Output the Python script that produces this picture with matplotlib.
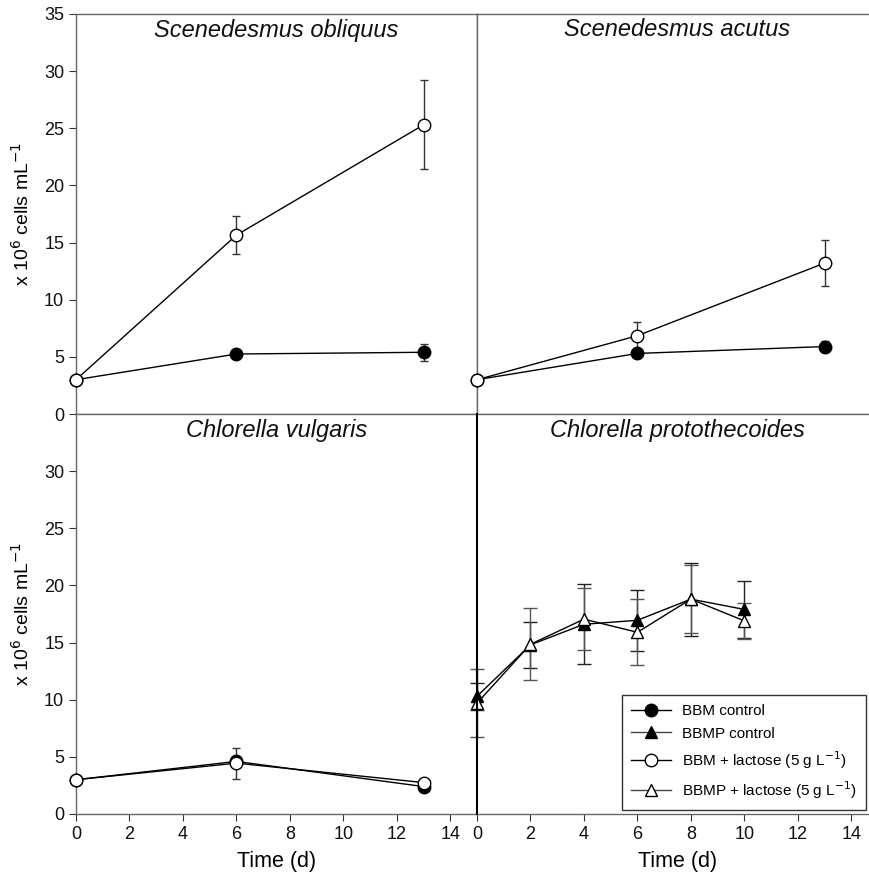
import numpy as np
import matplotlib.pyplot as plt
from matplotlib.lines import Line2D

plt.rcParams['font.family'] = ['Liberation Sans', 'DejaVu Sans']

# ---- data ----
days_long = [0, 6, 13]
days_short = [0, 2, 4, 6, 8, 10]

obl_bbm = [3.0, 5.25, 5.4]
obl_bbm_err = [0, 0.2, 0.75]
obl_lac = [3.0, 15.65, 25.3]
obl_lac_err = [0, 1.65, 3.9]

acu_bbm = [3.0, 5.3, 5.9]
acu_bbm_err = [0, 0.3, 0.5]
acu_lac = [3.0, 6.85, 13.2]
acu_lac_err = [0, 1.2, 2.0]

vul_bbm = [3.0, 4.6, 2.4]
vul_bbm_err = [0, 0.4, 0.2]
vul_lac = [3.0, 4.45, 2.75]
vul_lac_err = [0, 1.35, 0.2]

pro_bbmp = [10.3, 14.8, 16.6, 16.95, 18.8, 17.9]
pro_bbmp_err = [1.2, 2.0, 3.5, 2.65, 3.2, 2.5]
pro_lac = [9.7, 14.85, 17.05, 15.9, 18.8, 16.9]
pro_lac_err = [3.0, 3.15, 2.7, 2.9, 3.0, 1.6]

titles = ['Scenedesmus obliquus', 'Scenedesmus acutus',
          'Chlorella vulgaris', 'Chlorella protothecoides']
legend_labels = ['BBM control', 'BBMP control',
                 'BBM + lactose (5 g L$^{-1}$)', 'BBMP + lactose (5 g L$^{-1}$)']

# ---- layout ----
W, H = 869, 875
fig = plt.figure(figsize=(W / 100, H / 100), dpi=100)
aw, ah = 401 / W, 400 / H
ax_tl = fig.add_axes([76 / W, (H - 414) / H, aw, ah])
ax_tr = fig.add_axes([477 / W, (H - 414) / H, aw, ah])
ax_bl = fig.add_axes([76 / W, (H - 814) / H, aw, ah])
ax_br = fig.add_axes([477 / W, (H - 814) / H, aw, ah])
axes = [ax_tl, ax_tr, ax_bl, ax_br]

spine_col = '#666666'
ms = 9

def series(ax, x, y, e, marker, filled, cap=3, ecol='#333333'):
    ax.errorbar(x, y, yerr=e, color='black', lw=1.0, marker=marker, ms=ms,
                mfc='black' if filled else 'white', mec='black', mew=1.0,
                ecolor=ecol, elinewidth=1.0, capsize=cap, capthick=1.0,
                clip_on=False, zorder=3)

series(ax_tl, days_long, obl_bbm, obl_bbm_err, 'o', True)
series(ax_tl, days_long, obl_lac, obl_lac_err, 'o', False)
series(ax_tr, days_long, acu_bbm, acu_bbm_err, 'o', True)
series(ax_tr, days_long, acu_lac, acu_lac_err, 'o', False)
series(ax_bl, days_long, vul_bbm, vul_bbm_err, 'o', True)
series(ax_bl, days_long, vul_lac, vul_lac_err, 'o', False)
series(ax_br, days_short, pro_bbmp, pro_bbmp_err, '^', True, cap=5, ecol='#222222')
series(ax_br, days_short, pro_lac, pro_lac_err, '^', False, cap=5, ecol='#555555')

for i, ax in enumerate(axes):
    ax.set_xlim(0, 15)
    ax.set_ylim(0, 35)
    for s in ax.spines.values():
        s.set_color(spine_col)
        s.set_linewidth(1.0)
    ax.text(0.5, 0.96, titles[i], transform=ax.transAxes, ha='center', va='center',
            fontsize=17, style='italic', color='#111111')
    ax.tick_params(colors='#333333', labelcolor='#111111', labelsize=13,
                   direction='out', length=5, width=0.8)
    ax.set_xticks(np.arange(0, 15, 2))
    ax.set_yticks(np.arange(0, 36, 5))

# top row: no x ticks
for ax in [ax_tl, ax_tr]:
    ax.tick_params(axis='x', bottom=False, labelbottom=False)
# right column: no y ticks
for ax in [ax_tr, ax_br]:
    ax.tick_params(axis='y', left=False, labelleft=False)

ax_bl.set_yticks(np.arange(0, 31, 5))
ax_br.spines['left'].set_color('black')
ax_br.spines['left'].set_linewidth(1.5)
ax_br.spines['left'].set_zorder(4)

for ax in [ax_tl, ax_bl]:
    ax.set_ylabel('x 10$^6$ cells mL$^{-1}$', fontsize=14, labelpad=8)
for ax in [ax_bl, ax_br]:
    ax.set_xlabel('Time (d)', fontsize=15.5)
    ax.xaxis.set_label_coords(0.5, -0.092)

handles = [
    Line2D([], [], color='black', lw=1, marker='o', ms=ms, mfc='black', mec='black'),
    Line2D([], [], color='#444444', lw=1, marker='^', ms=ms, mfc='black', mec='black'),
    Line2D([], [], color='black', lw=1, marker='o', ms=ms, mfc='white', mec='black'),
    Line2D([], [], color='#444444', lw=1, marker='^', ms=ms, mfc='white', mec='black'),
]
leg = ax_br.legend(handles, legend_labels, loc='lower left', bbox_to_anchor=(0.362, 0.01),
                   fontsize=11, frameon=True, fancybox=False, edgecolor='black',
                   handlelength=2.6, labelspacing=0.55, borderpad=0.6, handletextpad=0.7,
                   borderaxespad=0)
leg.get_frame().set_linewidth(1.0)

fig.savefig('out.png', dpi=100)
